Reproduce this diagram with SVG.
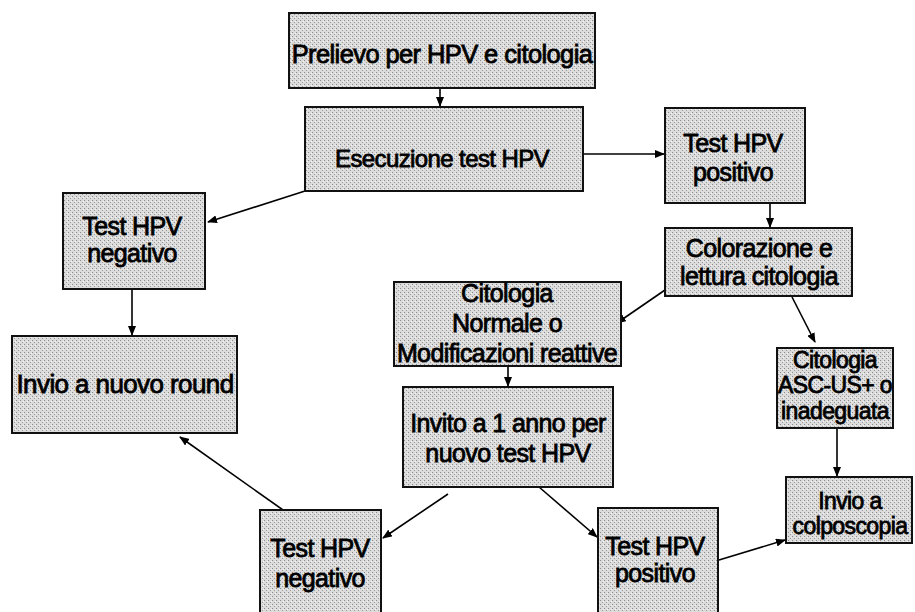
<svg xmlns="http://www.w3.org/2000/svg" width="915" height="612" viewBox="0 0 915 612">
<defs>
<pattern id="dots" width="4" height="4" patternUnits="userSpaceOnUse">
<rect width="4" height="4" fill="#dcdcdc"/>
<rect x="0" y="0" width="1" height="1" fill="#8a8a8a"/>
<rect x="2" y="2" width="1" height="1" fill="#9a9a9a"/>
<rect x="3" y="1" width="1" height="1" fill="#f4f4f4"/>
</pattern>
<marker id="ah" markerWidth="10" markerHeight="8" refX="9" refY="4" orient="auto" markerUnits="userSpaceOnUse">
<path d="M0,0 L10,4 L0,8 Z" fill="#000"/>
</marker>
</defs>
<style>
.box{fill:url(#dots);stroke:#111;stroke-width:2}
.t{font-family:"Liberation Sans",Arial,sans-serif;font-size:25px;fill:#000;stroke:#000;stroke-width:0.8;text-anchor:middle;letter-spacing:-0.6px}
.s{font-size:23px}
.m{font-size:24px}
.c{stroke:#000;stroke-width:1.6;fill:none;marker-end:url(#ah)}
</style>
<rect width="915" height="612" fill="#fff"/>
<g id="connectors">
<line class="c" x1="440" y1="88" x2="440" y2="106"/>
<line class="c" x1="583" y1="154" x2="664" y2="154"/>
<line class="c" x1="305" y1="191" x2="208" y2="222"/>
<line class="c" x1="770" y1="203" x2="770" y2="227"/>
<line class="c" x1="132" y1="289" x2="132" y2="335"/>
<line class="c" x1="665" y1="290" x2="617" y2="323"/>
<line class="c" x1="792" y1="297" x2="815" y2="342"/>
<line class="c" x1="508" y1="366" x2="508" y2="386"/>
<line class="c" x1="837" y1="428" x2="837" y2="476"/>
<line class="c" x1="448" y1="494" x2="383" y2="538"/>
<line class="c" x1="539" y1="487" x2="597" y2="537"/>
<line class="c" x1="283" y1="510" x2="180" y2="437"/>
<line class="c" x1="719" y1="560" x2="785" y2="540"/>
</g>
<g id="n1"><rect class="box" x="289" y="13" width="306" height="75"/><text class="t" x="442" y="63" style="font-size:25.5px">Prelievo per HPV e citologia</text></g>
<g id="n2"><rect class="box" x="305" y="107" width="278" height="84"/><text class="t m" x="442" y="167">Esecuzione test HPV</text></g>
<g id="n3"><rect class="box" x="665" y="108" width="140" height="95"/><text class="t" x="733" y="152">Test HPV</text><text class="t" x="733" y="181">positivo</text></g>
<g id="n4"><rect class="box" x="665" y="228" width="187" height="68"/><text class="t" x="759" y="257">Colorazione e</text><text class="t" x="759" y="285">lettura citologia</text></g>
<g id="n5"><rect class="box" x="63" y="193" width="142" height="96"/><text class="t" x="132" y="235">Test HPV</text><text class="t" x="132" y="262">negativo</text></g>
<g id="n6"><rect class="box" x="12" y="336" width="225" height="97"/><text class="t" x="125" y="393" style="font-size:26px">Invio a nuovo round</text></g>
<g id="n7"><rect class="box" x="394" y="282" width="227" height="84"/><text class="t" x="507" y="302">Citologia</text><text class="t" x="507" y="332">Normale o</text><text class="t" x="507" y="362">Modificazioni reattive</text></g>
<g id="n8"><rect class="box" x="403" y="387" width="210" height="100"/><text class="t" x="508" y="432">Invito a 1 anno per</text><text class="t" x="508" y="462">nuovo test HPV</text></g>
<g id="n9"><rect class="box" x="260" y="510" width="121" height="106"/><text class="t" x="320" y="557">Test HPV</text><text class="t" x="320" y="587">negativo</text></g>
<g id="n10"><rect class="box" x="598" y="508" width="120" height="108"/><text class="t" x="655" y="555">Test HPV</text><text class="t" x="655" y="582">positivo</text></g>
<g id="n11"><rect class="box" x="777" y="348" width="116" height="80"/><text class="t s" x="835" y="368">Citologia</text><text class="t s" x="835" y="393">ASC-US+ o</text><text class="t s" x="835" y="419">inadeguata</text></g>
<g id="n12"><rect class="box" x="786" y="477" width="126" height="66"/><text class="t s" x="850" y="509">Invio a</text><text class="t s" x="850" y="534">colposcopia</text></g>
</svg>
